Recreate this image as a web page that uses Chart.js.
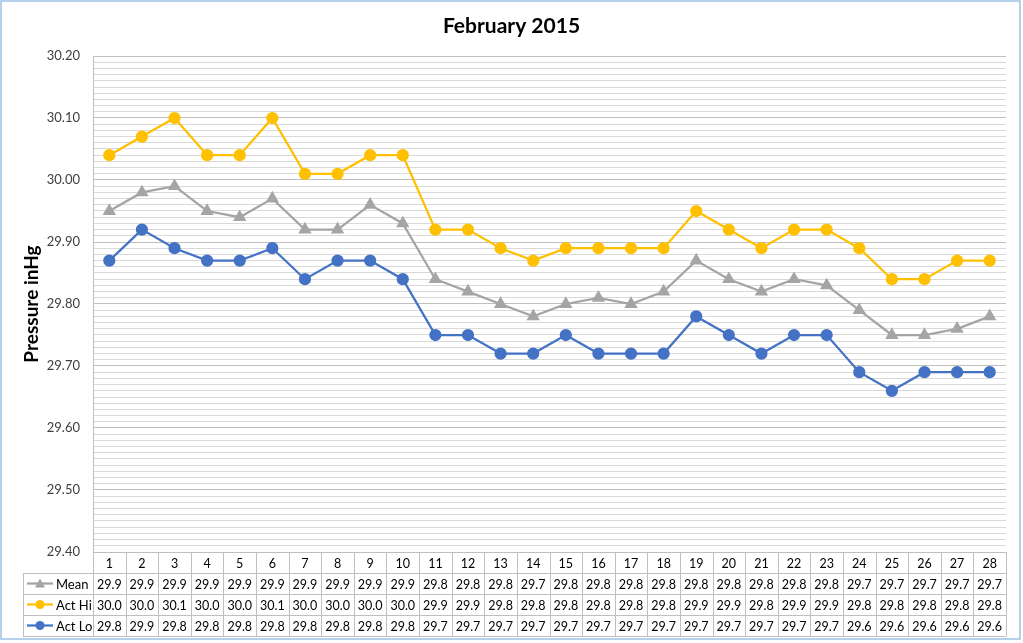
<!DOCTYPE html>
<html>
<head>
<meta charset="utf-8">
<title>February 2015</title>
<script src="https://cdn.jsdelivr.net/npm/chart.js@4.4.1/dist/chart.umd.min.js"></script>
<style>
  html,body{margin:0;padding:0;background:#fff;}
  #wrap{width:1023px;height:643px;}
</style>
</head>
<body>
<div id="wrap"><canvas id="myChart" width="1023" height="643"></canvas></div>
<script>
// ***********data***********
const days=['1','2','3','4','5','6','7','8','9','10','11','12','13','14','15','16','17','18','19','20','21','22','23','24','25','26','27','28'];
const meanVals=[29.95,29.98,29.99,29.95,29.94,29.97,29.92,29.92,29.96,29.93,29.84,29.82,29.80,29.78,29.80,29.81,29.80,29.82,29.87,29.84,29.82,29.84,29.83,29.79,29.75,29.75,29.76,29.78];
const actHiVals=[30.04,30.07,30.10,30.04,30.04,30.10,30.01,30.01,30.04,30.04,29.92,29.92,29.89,29.87,29.89,29.89,29.89,29.89,29.95,29.92,29.89,29.92,29.92,29.89,29.84,29.84,29.87,29.87];
const actLoVals=[29.87,29.92,29.89,29.87,29.87,29.89,29.84,29.87,29.87,29.84,29.75,29.75,29.72,29.72,29.75,29.72,29.72,29.72,29.78,29.75,29.72,29.75,29.75,29.69,29.66,29.69,29.69,29.69];
// ***********data-table text (as shown under the chart)***********
const meanTable=['29.9','29.9','29.9','29.9','29.9','29.9','29.9','29.9','29.9','29.9','29.8','29.8','29.8','29.7','29.8','29.8','29.8','29.8','29.8','29.8','29.8','29.8','29.8','29.7','29.7','29.7','29.7','29.7'];
const actHiTable=['30.0','30.0','30.1','30.0','30.0','30.1','30.0','30.0','30.0','30.0','29.9','29.9','29.8','29.8','29.8','29.8','29.8','29.8','29.9','29.9','29.8','29.9','29.9','29.8','29.8','29.8','29.8','29.8'];
const actLoTable=['29.8','29.9','29.8','29.8','29.8','29.8','29.8','29.8','29.8','29.8','29.7','29.7','29.7','29.7','29.7','29.7','29.7','29.7','29.7','29.7','29.7','29.7','29.7','29.6','29.6','29.6','29.6','29.6'];
const yMin=29.40, yMax=30.20, yMinorStep=0.01;

const FONT='Lato, "Open Sans", sans-serif';
const ctx=document.getElementById('myChart');

function isMajor(v){
  return Math.round(v*100)%10===0;
}

// ********title + border + data table******
const extrasPlugin={
  id:'extras',
  beforeDraw(chart){
    const c=chart.ctx;
    c.save();
    c.fillStyle='#fff';
    c.fillRect(0,0,chart.width,chart.height);
    c.restore();
  },
  afterDraw(chart){
    const c=chart.ctx;
    const area=chart.chartArea;
    const xs=chart.scales.x;
    const colW=(area.right-area.left)/days.length;
    const rowH=21;
    const top=area.bottom;
    const keyLeft=23;
    c.save();
    // title
    c.fillStyle='#000';
    c.font='bold 21px '+FONT;
    c.textAlign='center';
    c.textBaseline='middle';
    c.fillText('February 2015',chart.width/2,26);

    // table grid
    c.strokeStyle='#bfbfbf';
    c.lineWidth=1;
    c.beginPath();
    for(let r=1;r<=4;r++){
      const y=Math.round(top+r*rowH)+0.5;
      c.moveTo(keyLeft,y);
      c.lineTo(area.right,y);
    }
    for(let i=0;i<=days.length;i++){
      const x=Math.round(area.left+i*colW)+0.5;
      c.moveTo(x,top);
      c.lineTo(x,top+4*rowH);
    }
    c.moveTo(keyLeft+0.5,top+rowH);
    c.lineTo(keyLeft+0.5,top+4*rowH);
    c.stroke();

    // table text
    c.fillStyle='#000';
    c.font='12.5px '+FONT;
    c.textAlign='center';
    const rows=[days,meanTable,actHiTable,actLoTable];
    rows.forEach((row,r)=>{
      row.forEach((t,i)=>{
        c.fillText(t,xs.getPixelForValue(i),top+r*rowH+rowH/2+1);
      });
    });

    // legend keys
    chart.data.datasets.forEach((ds,k)=>{
      const y=top+(k+1)*rowH+rowH/2;
      c.strokeStyle=ds.borderColor;
      c.lineWidth=2.25;
      c.beginPath();
      c.moveTo(27,y);
      c.lineTo(53,y);
      c.stroke();
      c.fillStyle=ds.backgroundColor;
      c.beginPath();
      if(ds.pointStyle==='triangle'){
        c.moveTo(40,y-5);
        c.lineTo(45,y+4);
        c.lineTo(35,y+4);
        c.closePath();
      }else{
        c.arc(40,y,4.5,0,Math.PI*2);
      }
      c.fill();
      c.fillStyle='#000';
      c.textAlign='left';
      c.font='13px '+FONT;
      c.fillText(ds.label,56,y+1);
    });

    // outer border
    c.strokeStyle='#9dc3e6';
    c.lineWidth=1.5;
    c.strokeRect(1,1,1019,638);
    c.restore();
  }
};

// ********************display-chart****************
new Chart(ctx,{
  type:'line',
  data:{
    labels:days,
    datasets:[
      {label:'Mean',data:meanVals,borderColor:'#a5a5a5',backgroundColor:'#a5a5a5',pointStyle:'triangle',pointRadius:5.5,borderWidth:2.25},
      {label:'Act Hi',data:actHiVals,borderColor:'#ffc000',backgroundColor:'#ffc000',pointStyle:'circle',pointRadius:5,borderWidth:2.25},
      {label:'Act Lo',data:actLoVals,borderColor:'#4472c4',backgroundColor:'#4472c4',pointStyle:'circle',pointRadius:5,borderWidth:2.25}
    ]
  },
  options:{
    responsive:false,
    animation:false,
    layout:{padding:{left:20,right:17,top:56,bottom:91}},
    plugins:{
      legend:{display:false},
      title:{display:false},
      tooltip:{enabled:false}
    },
    elements:{
      line:{tension:0},
      point:{borderWidth:0,hoverRadius:5}
    },
    scales:{
      x:{
        type:'category',
        offset:true,
        display:false
      },
      y:{
        min:yMin,
        max:yMax,
        afterFit(scale){scale.width=73;},
        border:{display:true,color:'#bfbfbf'},
        grid:{
          color:c=>isMajor(c.tick.value)?'#bfbfbf':'#d9d9d9',
          lineWidth:1,
          drawTicks:false
        },
        ticks:{
          stepSize:yMinorStep,
          autoSkip:false,
          maxTicksLimit:200,
          padding:13,
          color:'#404040',
          font:{family:FONT,size:13},
          callback:v=>isMajor(v)?Number(v).toFixed(2):''
        },
        title:{
          display:true,
          text:'Pressure inHg',
          color:'#000',
          font:{family:FONT,size:19,weight:'bold'},
          padding:{top:0,bottom:0}
        }
      }
    }
  },
  plugins:[extrasPlugin]
});
</script>
</body>
</html>
